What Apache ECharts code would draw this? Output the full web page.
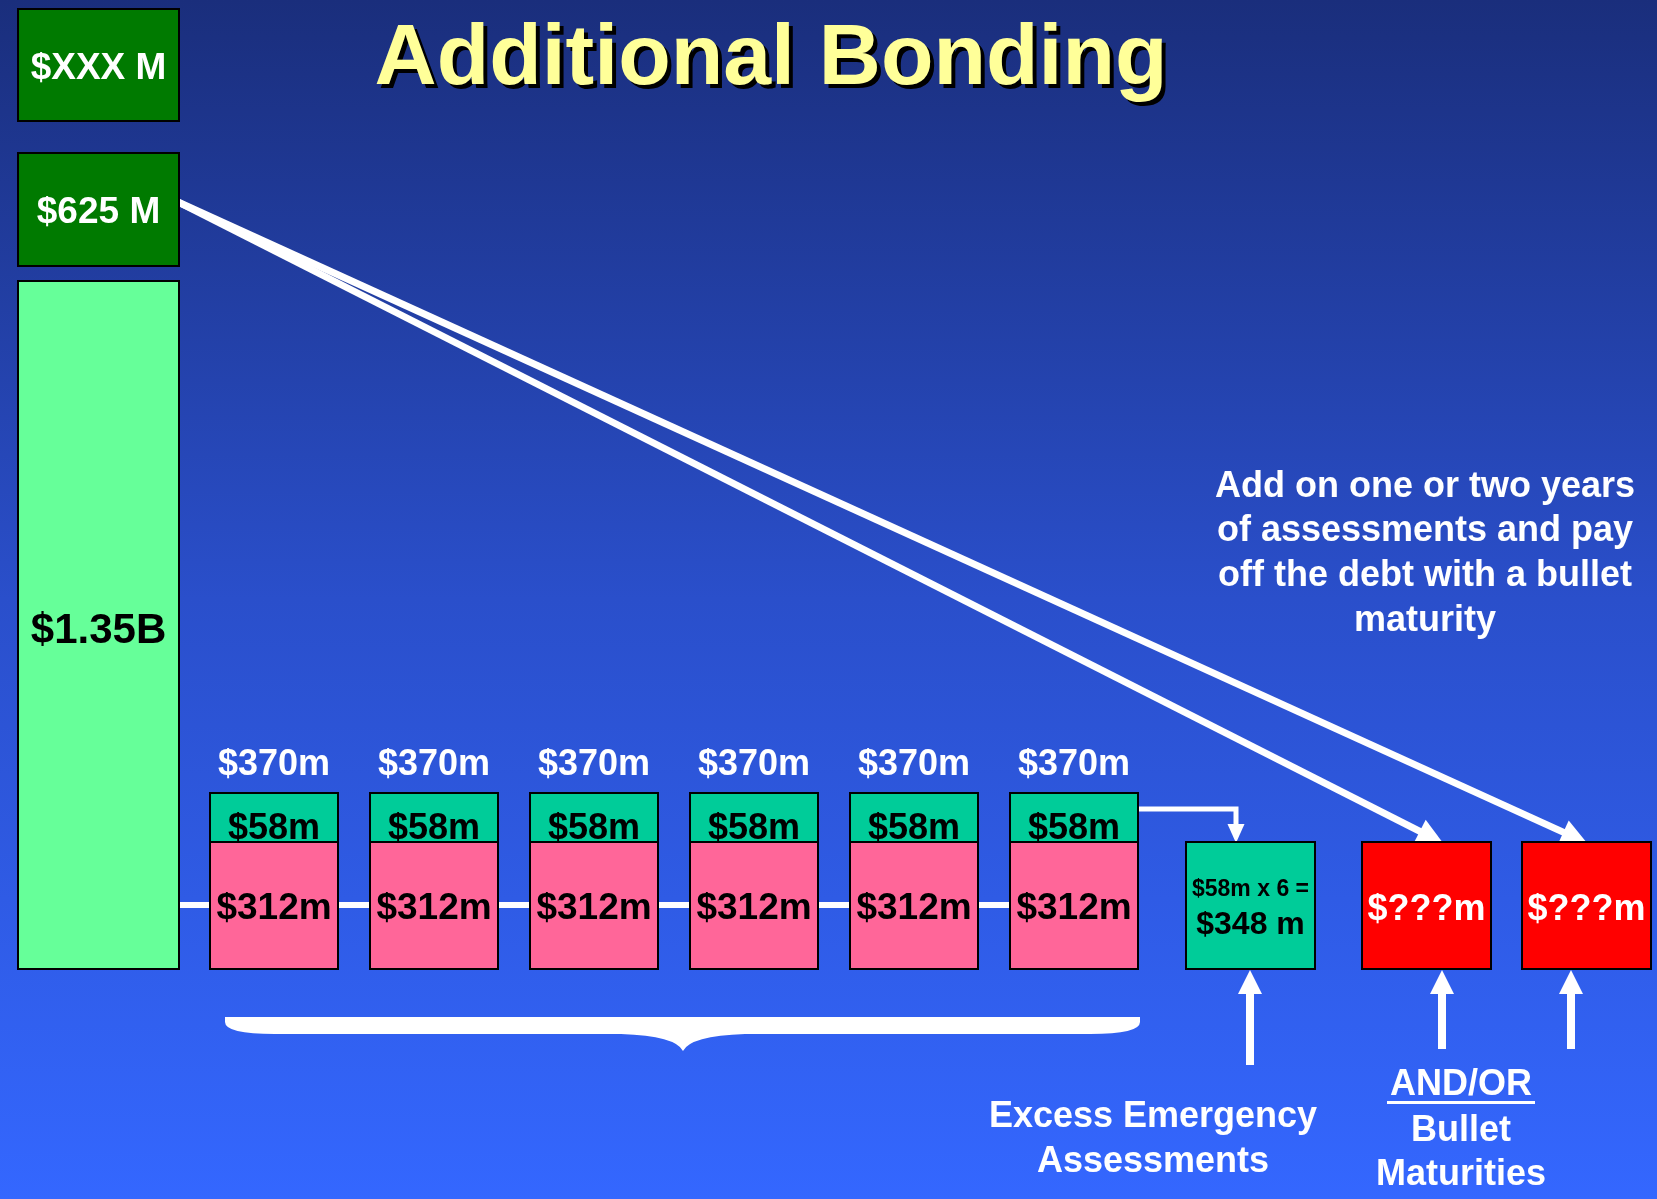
<!DOCTYPE html>
<html><head><meta charset="utf-8">
<style>html,body{margin:0;padding:0;background:#2a4ec8;} #c{width:1657px;height:1199px;}</style>
<script src="https://cdn.jsdelivr.net/npm/echarts@6/dist/echarts.min.js"></script>
</head><body><div id="c"></div>
<script>
// ---------------- data ----------------
const titleText = 'Additional Bonding';
const leftStackLabels = ['$1.35B', '$625 M', '$XXX M'];
const annualTotals = [370, 370, 370, 370, 370, 370];
const annualAssessments = [58, 58, 58, 58, 58, 58];
const annualDebtService = [312, 312, 312, 312, 312, 312];
const excessYears = 6;
const excessTotal = 348;
const bulletLabels = ['$???m', '$???m'];
const noteLines = ['Add on one or two years', 'of assessments and pay', 'off the debt with a bullet', 'maturity'];
const excessCaption = ['Excess Emergency', 'Assessments'];
const bulletCaption = ['AND/OR', 'Bullet', 'Maturities'];

// ---------------- layout (pixel units on hidden 1:1 axes) ----------------
const W = 1657, H = 1199;
const FONT = "'Liberation Sans', Arial, Helvetica, sans-serif";
const TEXT_DY = 3;
const C = {
  dkGreen: '#007a00', ltGreen: '#66ff99', teal: '#00cc99', pink: '#ff6699', red: '#ff0000',
  title: '#ffff99', white: '#ffffff', black: '#000000'
};
const leftX = [18, 179];
const leftY = [[281, 969], [153, 266], [9, 121]];
const leftFill = [C.ltGreen, C.dkGreen, C.dkGreen];
const leftInk = [C.black, C.white, C.white];
const leftSize = [42, 37, 37];
const leftTextY = [628, 210, 66];
const stackX0 = 210, stackPitch = 160, stackW = 128;
const stackTop = 793, stackSplit = 842, stackBottom = 969;
const excessBox = [1186, 842, 1315, 969];
const bulletBoxes = [[1362, 842, 1491, 969], [1522, 842, 1651, 969]];

// build boxes from data
const boxes = [];
leftStackLabels.forEach((lab, i) => {
  boxes.push({x0: leftX[0], y0: leftY[i][0], x1: leftX[1], y1: leftY[i][1], fill: leftFill[i],
    labels: [{text: lab, y: leftTextY[i], size: leftSize[i], color: leftInk[i]}]});
});
annualTotals.forEach((tot, i) => {
  const x0 = stackX0 + i * stackPitch, x1 = x0 + stackW;
  boxes.push({x0, y0: stackSplit, x1, y1: stackBottom, fill: C.pink,
    labels: [{text: '$' + annualDebtService[i] + 'm', y: 906, size: 37, color: C.black}]});
  boxes.push({x0, y0: stackTop, x1, y1: stackSplit, fill: C.teal,
    labels: [{text: '$' + annualAssessments[i] + 'm', y: 826, size: 36, color: C.black},
             {text: '$' + tot + 'm', y: 762, size: 36, color: C.white}]});
});
boxes.push({x0: excessBox[0], y0: excessBox[1], x1: excessBox[2], y1: excessBox[3], fill: C.teal,
  labels: [{text: '$' + annualAssessments[0] + 'm x ' + excessYears + ' =', y: 887, size: 23, color: C.black},
           {text: '$' + excessTotal + ' m', y: 922, size: 32, color: C.black}]});
bulletLabels.forEach((lab, i) => {
  const b = bulletBoxes[i];
  boxes.push({x0: b[0], y0: b[1], x1: b[2], y1: b[3], fill: C.red,
    labels: [{text: lab, y: 907, size: 36, color: C.white}]});
});

function txt(p, text, size, color) {
  return {
    type: 'text',
    style: {text, x: p[0], y: p[1] + TEXT_DY, fill: color, font: 'bold ' + size + 'px ' + FONT,
      align: 'center', verticalAlign: 'middle', textAlign: 'center', textVerticalAlign: 'middle'}
  };
}

function renderBox(params, api) {
  const b = boxes[params.dataIndex];
  const p0 = api.coord([b.x0, b.y0]), p1 = api.coord([b.x1, b.y1]);
  const children = [{
    type: 'rect',
    shape: {x: p0[0], y: p0[1], width: p1[0] - p0[0], height: p1[1] - p0[1]},
    style: {fill: b.fill, stroke: '#000000', lineWidth: 2}
  }];
  const cx = (p0[0] + p1[0]) / 2;
  b.labels.forEach(l => {
    const p = api.coord([0, l.y]);
    children.push(txt([cx, p[1]], l.text, l.size, l.color));
  });
  return {type: 'group', children};
}

function arrowHead(api, tip, from, len, width) {
  const t = api.coord(tip), f = api.coord(from);
  const dx = t[0] - f[0], dy = t[1] - f[1], d = Math.hypot(dx, dy);
  const ux = dx / d, uy = dy / d, nx = -uy, ny = ux;
  const bx = t[0] - ux * len, by = t[1] - uy * len;
  return {type: 'polygon', shape: {points: [[t[0], t[1]], [bx + nx * width / 2, by + ny * width / 2], [bx - nx * width / 2, by - ny * width / 2]]},
    style: {fill: C.white}};
}
function seg(api, a, b, w) {
  const p = api.coord(a), q = api.coord(b);
  return {type: 'line', shape: {x1: p[0], y1: p[1], x2: q[0], y2: q[1]}, style: {stroke: C.white, lineWidth: w, lineCap: 'butt'}};
}

function renderDecor(params, api) {
  const ch = [];
  // connector through the yearly boxes
  ch.push(seg(api, [leftX[1], 905], [stackX0 + 5 * stackPitch, 905], 6));
  // diagonal arrows from $625 M to bullet boxes
  const origin = [178, 202];
  const tips = [[1443, 843], [1587, 843]];
  tips.forEach(t => {
    const ux = t[0] - origin[0], uy = t[1] - origin[1], d = Math.hypot(ux, uy);
    const end = [t[0] - ux / d * 22, t[1] - uy / d * 22];
    ch.push(seg(api, origin, end, 7));
    ch.push(arrowHead(api, t, origin, 26, 26));
  });
  // elbow arrow to excess box
  const xr = stackX0 + 5 * stackPitch + stackW;
  const p1 = api.coord([xr, 809]), p2 = api.coord([1236, 809]), p3 = api.coord([1236, 826]);
  ch.push({type: 'polyline', shape: {points: [p1, p2, p3]}, style: {stroke: C.white, lineWidth: 5, fill: null, lineJoin: 'miter'}});
  ch.push(arrowHead(api, [1236, 843], [1236, 809], 19, 17));
  // upward arrows
  [[1250, 1065], [1442, 1049], [1571, 1049]].forEach(a => {
    ch.push(seg(api, [a[0], a[1]], [a[0], 990], 8));
    ch.push(arrowHead(api, [a[0], 970], [a[0], a[1]], 24, 24));
  });
  // brace
  const P = (x, y) => api.coord([x, y]);
  const q = [P(225, 1017), P(1140, 1017), P(1140, 1022), P(1090, 1034), P(745, 1034), P(683, 1051), P(621, 1034), P(275, 1034), P(225, 1022)];
  const s = (p) => p[0].toFixed(1) + ' ' + p[1].toFixed(1);
  const path = 'M' + s(q[0]) + ' L' + s(q[1]) + ' L' + s(q[2]) +
    ' Q' + s(P(1140, 1034)) + ' ' + s(q[3]) + ' L' + s(q[4]) +
    ' Q' + s(P(690, 1036)) + ' ' + s(q[5]) +
    ' Q' + s(P(676, 1036)) + ' ' + s(q[6]) + ' L' + s(q[7]) +
    ' Q' + s(P(225, 1034)) + ' ' + s(q[8]) + ' Z';
  ch.push({type: 'path', shape: {pathData: path}, style: {fill: C.white}});
  // underline under AND/OR
  const u0 = P(1387, 1101), u1 = P(1535, 1104);
  ch.push({type: 'rect', shape: {x: u0[0], y: u0[1], width: u1[0] - u0[0], height: u1[1] - u0[1]}, style: {fill: C.white}});
  // free texts
  const noteY = [484, 528, 573, 618];
  noteLines.forEach((t, i) => ch.push(txt(P(1425, noteY[i]), t, 36, C.white)));
  const exY = [1114, 1159];
  excessCaption.forEach((t, i) => ch.push(txt(P(1153, exY[i]), t, 36, C.white)));
  const buY = [1082, 1128, 1172];
  bulletCaption.forEach((t, i) => ch.push(txt(P(1461, buY[i]), t, 36, C.white)));
  // title with drop shadow
  const tt = txt(P(771, 57), titleText, 86, C.title);
  Object.assign(tt.style, {textShadowColor: '#000000', textShadowOffsetX: 4, textShadowOffsetY: 4, textShadowBlur: 0.01});
  ch.push(tt);
  return {type: 'group', children: ch};
}

const chart = echarts.init(document.getElementById('c'), null, {renderer: 'canvas', width: W, height: H});
chart.setOption({
  animation: false,
  backgroundColor: 'transparent',
  graphic: [{
    type: 'rect', z: -10, silent: true,
    shape: {x: 0, y: 0, width: W, height: H},
    style: {fill: new echarts.graphic.LinearGradient(0, 0, 0, 1, [
      {offset: 0, color: '#1a2e7c'}, {offset: 0.5, color: '#2a4fcb'}, {offset: 1, color: '#3467ff'}])}
  }],
  grid: {left: 0, right: 0, top: 0, bottom: 0, containLabel: false},
  xAxis: {type: 'value', min: 0, max: W, show: false},
  yAxis: {type: 'value', min: 0, max: H, inverse: true, show: false},
  series: [
    {type: 'custom', name: 'decor', coordinateSystem: 'cartesian2d', clip: false, z: 2, silent: true,
      data: [[0, 0]], renderItem: renderDecor},
    {type: 'custom', name: 'boxes', coordinateSystem: 'cartesian2d', clip: false, z: 3, silent: true,
      data: boxes.map((b, i) => [i, 0]), renderItem: renderBox}
  ]
});
</script></body></html>
